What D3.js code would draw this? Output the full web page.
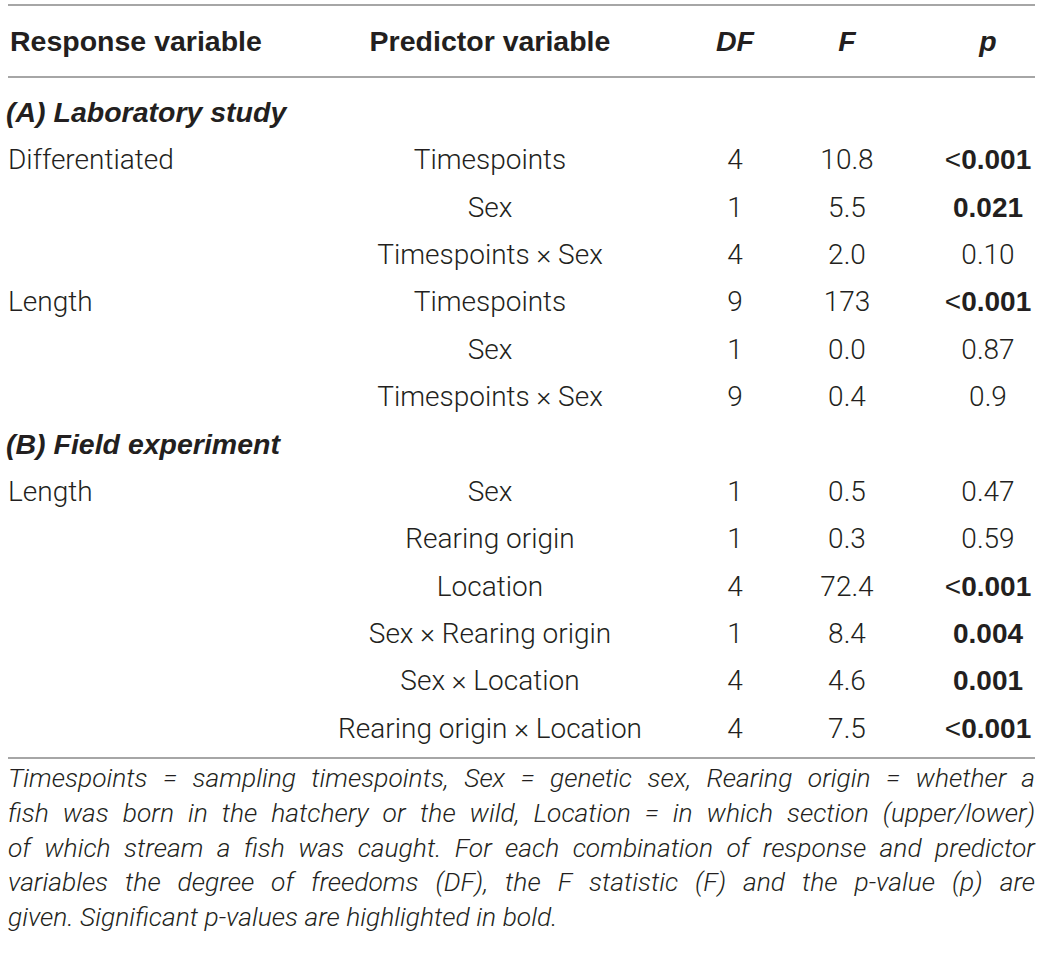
<!DOCTYPE html>
<html><head><meta charset="utf-8">
<script src="https://cdn.jsdelivr.net/npm/d3@7"></script>
<style>
html,body{margin:0;padding:0;background:#fff;}
svg{display:block;}
</style></head>
<body>
<svg id="chart" width="1044" height="961"></svg>
<script>
// ---- data ----
const headers = ["Response variable", "Predictor variable", "DF", "F", "p"];
const sections = ["(A) Laboratory study", "(B) Field experiment"];
const sectionRowsCount = [6, 6];
const responses = ["Differentiated", "", "", "Length", "", "", "Length", "", "", "", "", ""];
const predictors = ["Timespoints", "Sex", "Timespoints × Sex", "Timespoints", "Sex", "Timespoints × Sex",
  "Sex", "Rearing origin", "Location", "Sex × Rearing origin", "Sex × Location", "Rearing origin × Location"];
const dfValues = ["4", "1", "4", "9", "1", "9", "1", "1", "4", "1", "4", "4"];
const fValues = ["10.8", "5.5", "2.0", "173", "0.0", "0.4", "0.5", "0.3", "72.4", "8.4", "4.6", "7.5"];
const pValues = ["<0.001", "0.021", "0.10", "<0.001", "0.87", "0.9", "0.47", "0.59", "<0.001", "0.004", "0.001", "<0.001"];
const pSignificant = [true, true, false, true, false, false, false, false, true, true, true, true];
const footnoteLines = [
  "Timespoints = sampling timespoints, Sex = genetic sex, Rearing origin = whether a",
  "fish was born in the hatchery or the wild, Location = in which section (upper/lower)",
  "of which stream a fish was caught. For each combination of response and predictor",
  "variables the degree of freedoms (DF), the F statistic (F) and the p-value (p) are",
  "given. Significant p-values are highlighted in bold."
];

// ---- layout ----
const svg = d3.select("#chart");
const FONT = "Roboto, 'Liberation Sans', Arial, sans-serif";
const BOLDFONT = "'Liberation Sans', Arial, sans-serif";
const left = 8, right = 1035;
const lineColor = "#a6a6a6";
const textColor = "#231f20";

const lines = [];
let ri = 0;
sections.forEach((s, si) => {
  lines.push({type: "section", text: s});
  for (let k = 0; k < sectionRowsCount[si]; k++, ri++) lines.push({type: "row", i: ri});
});

const y = d3.scaleLinear().domain([0, lines.length - 1]).range([112, 728]);
const colX = d3.scaleOrdinal().domain(headers).range([10, 490, 735, 847, 988]);
const colAnchor = d3.scaleOrdinal().domain(headers).range(["start", "middle", "middle", "middle", "middle"]);

// rules
[5, 77, 758].forEach(yy => {
  svg.append("line").attr("x1", left).attr("x2", right).attr("y1", yy).attr("y2", yy)
    .attr("stroke", lineColor).attr("stroke-width", 2);
});

// header
svg.selectAll("text.hdr").data(headers).join("text").attr("class", "hdr")
  .attr("x", d => colX(d)).attr("y", 41).attr("dy", "0.35em")
  .attr("text-anchor", d => colAnchor(d))
  .attr("font-family", BOLDFONT).attr("font-size", 28.5).attr("font-weight", 700)
  .attr("font-style", (d, i) => i >= 2 ? "italic" : "normal")
  .attr("fill", textColor).text(d => d);

// body
const g = svg.append("g").attr("font-family", FONT).attr("fill", textColor);
lines.forEach((ln, li) => {
  const yy = y(li);
  if (ln.type === "section") {
    g.append("text").attr("x", 6).attr("y", yy).attr("dy", "0.35em")
      .attr("font-family", BOLDFONT)
      .attr("font-size", 28.5).attr("font-weight", 700).attr("font-style", "italic").text(ln.text);
    return;
  }
  const i = ln.i;
  const cells = [responses[i], predictors[i], dfValues[i], fValues[i]];
  cells.forEach((c, ci) => {
    if (!c) return;
    g.append("text").attr("x", ci === 0 ? 8 : colX(headers[ci])).attr("y", yy).attr("dy", "0.35em")
      .attr("text-anchor", colAnchor(headers[ci]))
      .attr("font-size", 28).attr("font-weight", 300).text(c);
  });
  const pt = g.append("text").attr("x", colX(headers[4])).attr("y", yy).attr("dy", "0.35em")
    .attr("text-anchor", "middle").attr("font-size", 28);
  const pv = pValues[i];
  const boldAttrs = s => s.attr("font-family", BOLDFONT).attr("font-weight", 700);
  if (pv.startsWith("<")) {
    pt.append("tspan").attr("font-family", BOLDFONT).attr("font-weight", 400).text("<");
    const s = pt.append("tspan").text(pv.slice(1));
    if (pSignificant[i]) boldAttrs(s); else s.attr("font-weight", 300);
  } else {
    const s = pt.append("tspan").text(pv);
    if (pSignificant[i]) boldAttrs(s); else s.attr("font-weight", 300);
  }
});

// footnote (justified)
const fy = d3.scaleLinear().domain([0, footnoteLines.length - 1]).range([778, 917]);
const fg = svg.append("g").attr("font-family", FONT).attr("font-size", 26.4)
  .attr("font-style", "italic").attr("font-weight", 300).attr("fill", textColor);
footnoteLines.forEach((txt, li) => {
  const words = txt.split(" ");
  const justify = li < footnoteLines.length - 1;
  const t = fg.append("text").attr("y", fy(li)).attr("dy", "0.35em");
  const spans = words.map(w => t.append("tspan").text(w));
  const widths = spans.map(s => s.node().getComputedTextLength());
  const total = d3.sum(widths);
  const spaceW = 6.5;
  let gap = justify ? (right - left - total) / (words.length - 1) : spaceW;
  let scale = 1;
  if (gap < 3) { gap = 3; scale = (right - left - gap * (words.length - 1)) / total; }
  let x = left;
  spans.forEach((s, k) => {
    s.attr("x", x);
    if (scale !== 1) s.attr("textLength", widths[k] * scale).attr("lengthAdjust", "spacingAndGlyphs");
    x += widths[k] * scale + gap;
  });
});
</script>
</body></html>
